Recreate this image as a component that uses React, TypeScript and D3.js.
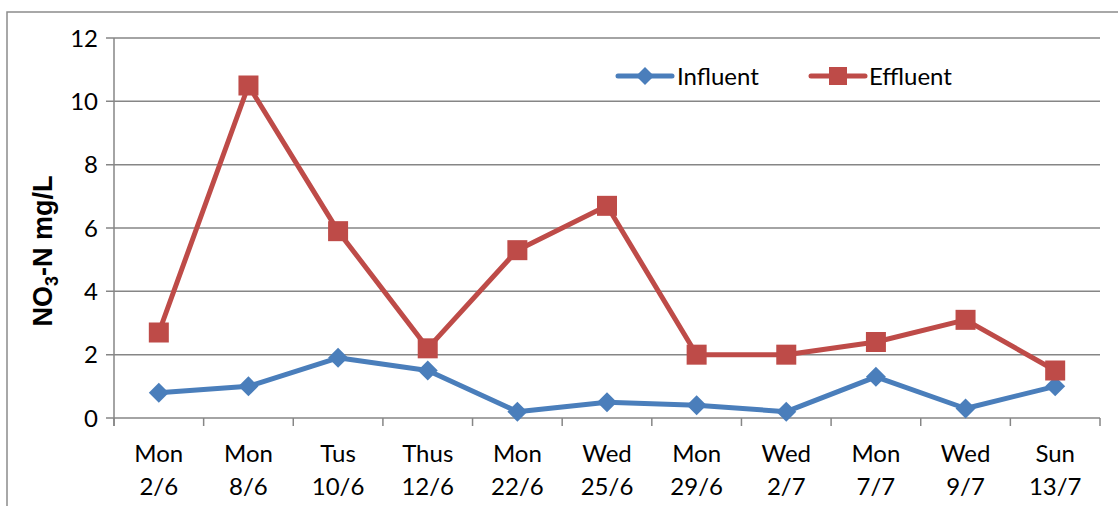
import React from "react";
import * as d3 from "d3";

const categories = [
  ["Mon", "2/6"], ["Mon", "8/6"], ["Tus", "10/6"], ["Thus", "12/6"], ["Mon", "22/6"],
  ["Wed", "25/6"], ["Mon", "29/6"], ["Wed", "2/7"], ["Mon", "7/7"], ["Wed", "9/7"], ["Sun", "13/7"],
];
const influent = [0.8, 1.0, 1.9, 1.5, 0.2, 0.5, 0.4, 0.2, 1.3, 0.3, 1.0];
const effluent = [2.7, 10.5, 5.9, 2.2, 5.3, 6.7, 2.0, 2.0, 2.4, 3.1, 1.5];
const yTicks = [0, 2, 4, 6, 8, 10, 12];

const W = 1118, H = 506;
const left = 114, right = 1100, top = 38, bottom = 418;
const BLUE = "#4a7ebb", RED = "#be4b48", GRID = "#868686";
const FONT = "Lato, 'Open Sans', sans-serif";
const FS = 24;

export default function App() {
  const x = d3.scaleBand<number>().domain(d3.range(categories.length)).range([left, right]);
  const y = d3.scaleLinear().domain([0, 12]).range([bottom, top]);
  const cx = (i: number) => (x(i) as number) + x.bandwidth() / 2;
  const line = d3.line<number>().x((_, i) => cx(i)).y((d) => y(d));
  const diamond = (px: number, py: number, r: number) =>
    `M${px},${py - r}L${px + r},${py}L${px},${py + r}L${px - r},${py}Z`;

  return (
    <div style={{ position: "absolute", left: 0, top: 0 }}>
      <svg width={W} height={H} style={{ display: "block" }}>
        <rect x={0} y={0} width={W} height={H} fill="#fff" />
        <rect x={7} y={12} width={1140} height={520} fill="none" stroke="#8c8c8c" strokeWidth={1.5} />
        {yTicks.map((t) => (
          <g key={t}>
            <line x1={left - 8} x2={right} y1={y(t)} y2={y(t)} stroke={GRID} strokeWidth={1.5} />
            <text x={left - 16} y={y(t)} dy="0.36em" textAnchor="end" fontFamily={FONT} fontSize={FS} fill="#000">
              {t}
            </text>
          </g>
        ))}
        <line x1={left} x2={left} y1={top} y2={bottom + 8} stroke={GRID} strokeWidth={1.5} />
        {d3.range(categories.length + 1).map((i) => {
          const px = i < categories.length ? (x(i) as number) : right;
          return <line key={i} x1={px} x2={px} y1={bottom} y2={bottom + 8} stroke={GRID} strokeWidth={1.5} />;
        })}
        {categories.map((c, i) => (
          <text key={i} x={cx(i)} textAnchor="middle" fontFamily={FONT} fontSize={FS} fill="#000">
            <tspan x={cx(i)} y={462}>{c[0]}</tspan>
            <tspan x={cx(i)} y={495}>{c[1]}</tspan>
          </text>
        ))}
        <text transform={`translate(52,251) rotate(-90)`} textAnchor="middle" fontFamily="'Liberation Sans', Arial, sans-serif" fontSize={27} fontWeight="bold" fill="#000">
          NO<tspan fontSize={18} dy={6}>3</tspan><tspan dy={-6}>-N mg/L</tspan>
        </text>
        <path d={line(effluent) || ""} fill="none" stroke={RED} strokeWidth={5} strokeLinejoin="round" />
        <path d={line(influent) || ""} fill="none" stroke={BLUE} strokeWidth={5} strokeLinejoin="round" />
        {influent.map((v, i) => (
          <path key={i} d={diamond(cx(i), y(v), 10)} fill={BLUE} />
        ))}
        {effluent.map((v, i) => (
          <rect key={i} x={cx(i) - 10} y={y(v) - 10} width={20} height={20} fill={RED} />
        ))}
        {/* legend */}
        <line x1={618} x2={672} y1={76} y2={76} stroke={BLUE} strokeWidth={5} strokeLinecap="round" />
        <path d={diamond(645, 76, 9)} fill={BLUE} />
        <text x={677} y={76} dy="0.36em" fontFamily={FONT} fontSize={FS} fill="#000">Influent</text>
        <line x1={811} x2={865} y1={76} y2={76} stroke={RED} strokeWidth={5} strokeLinecap="round" />
        <rect x={829} y={67} width={18} height={18} fill={RED} />
        <text x={869} y={76} dy="0.36em" fontFamily={FONT} fontSize={FS} fill="#000">Effluent</text>
      </svg>
    </div>
  );
}
